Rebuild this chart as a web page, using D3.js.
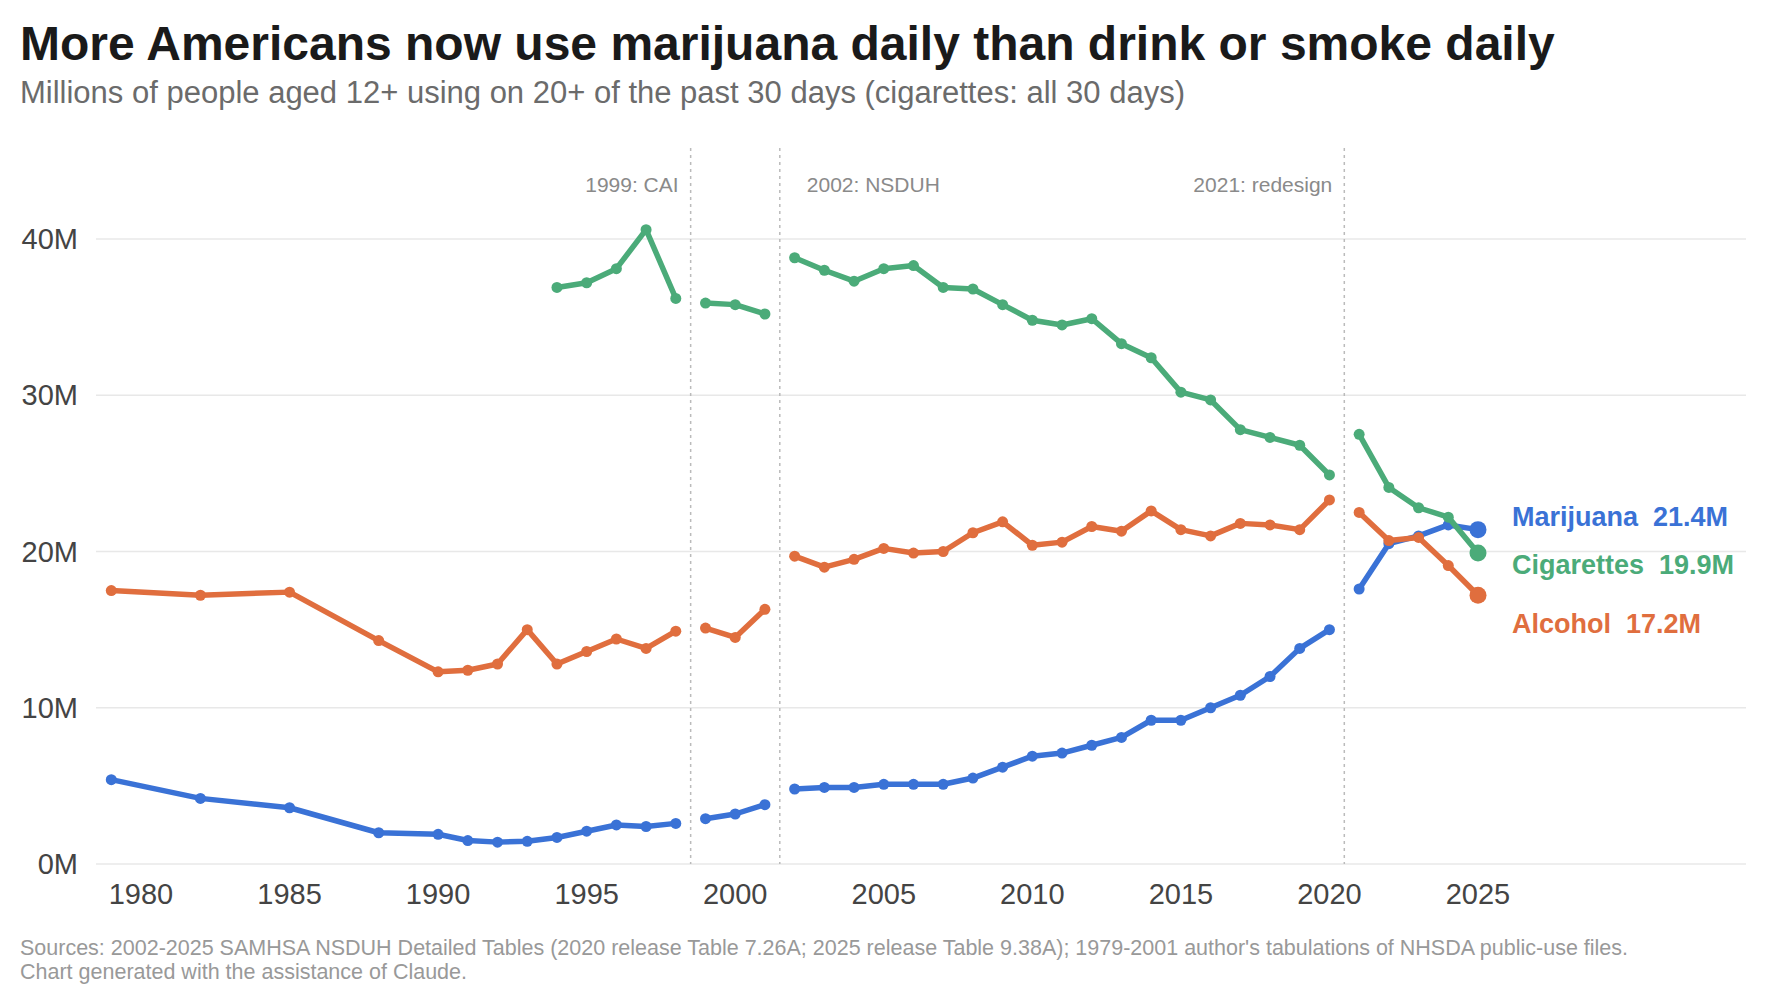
<!DOCTYPE html>
<html>
<head>
<meta charset="utf-8">
<script src="https://d3js.org/d3.v7.min.js"></script>
<style>
  body { margin: 0; background: #fff; font-family: "Liberation Sans", Arial, sans-serif; }
</style>
</head>
<body>
<div id="chart"></div>
<script>
// data (millions)
const years = [1979,1982,1985,1988,1990,1991,1992,1993,1994,1995,1996,1997,1998,
  1999,2000,2001,
  2002,2003,2004,2005,2006,2007,2008,2009,2010,2011,2012,2013,2014,2015,2016,2017,2018,2019,2020,
  2021,2022,2023,2024,2025];
const eras = [[1979,1998],[1999,2001],[2002,2020],[2021,2025]];
const marijuana = [5.4,4.2,3.6,2.0,1.9,1.5,1.4,1.45,1.7,2.1,2.5,2.4,2.6,
  2.9,3.2,3.8,
  4.8,4.9,4.9,5.1,5.1,5.1,5.5,6.2,6.9,7.1,7.6,8.1,9.2,9.2,10.0,10.8,12.0,13.8,15.0,
  17.6,20.5,21.0,21.7,21.4];
const alcohol = [17.5,17.2,17.4,14.3,12.3,12.4,12.8,15.0,12.8,13.6,14.4,13.8,14.9,
  15.1,14.5,16.3,
  19.7,19.0,19.5,20.2,19.9,20.0,21.2,21.9,20.4,20.6,21.6,21.3,22.6,21.4,21.0,21.8,21.7,21.4,23.3,
  22.5,20.7,20.9,19.1,17.2];
const cigarettes = [null,null,null,null,null,null,null,null,36.9,37.2,38.1,40.6,36.2,
  35.9,35.8,35.2,
  38.8,38.0,37.3,38.1,38.3,36.9,36.8,35.8,34.8,34.5,34.9,33.3,32.4,30.2,29.7,27.8,27.3,26.8,24.9,
  27.5,24.1,22.8,22.2,19.9];
const breaks = [1998.5, 2001.5, 2020.5];
const breakLabels = ["1999: CAI", "2002: NSDUH", "2021: redesign"];
const yTicks = [0,10,20,30,40];
const xTicks = [1980,1985,1990,1995,2000,2005,2010,2015,2020,2025];

const series = [
  {name: "Marijuana", values: marijuana, color: "#3a72d6"},
  {name: "Cigarettes", values: cigarettes, color: "#4bab79"},
  {name: "Alcohol", values: alcohol, color: "#e06e3e"}
];

const width = 1770, height = 990;
const svg = d3.select("#chart").append("svg").attr("width", width).attr("height", height);

const x = d3.scaleLinear().domain([1980, 2025]).range([141, 1478]);
const y = d3.scaleLinear().domain([0, 40]).range([864, 239]);
const plotLeft = 96, plotRight = 1746;

// title
svg.append("text").attr("x", 20).attr("y", 60).attr("font-size", 48).attr("font-weight", "bold")
  .attr("fill", "#1a1a1a").text("More Americans now use marijuana daily than drink or smoke daily");
svg.append("text").attr("x", 20).attr("y", 103).attr("font-size", 31).attr("fill", "#6b6b6b")
  .text("Millions of people aged 12+ using on 20+ of the past 30 days (cigarettes: all 30 days)");

// grid
svg.append("g").selectAll("line").data(yTicks).join("line")
  .attr("x1", plotLeft).attr("x2", plotRight)
  .attr("y1", d => y(d)).attr("y2", d => y(d))
  .attr("stroke", "#e8e8e8").attr("stroke-width", 1.5);
svg.append("g").selectAll("text").data(yTicks).join("text")
  .attr("x", 78).attr("y", d => y(d) + 10).attr("text-anchor", "end")
  .attr("font-size", 29).attr("fill", "#444").text(d => d + "M");
svg.append("g").selectAll("text").data(xTicks).join("text")
  .attr("x", d => x(d)).attr("y", 904).attr("text-anchor", "middle")
  .attr("font-size", 29).attr("fill", "#444").text(d => d);

// era breaks
svg.append("g").selectAll("line").data(breaks).join("line")
  .attr("x1", d => x(d)).attr("x2", d => x(d)).attr("y1", 148).attr("y2", 864)
  .attr("stroke", "#bbb").attr("stroke-width", 1.5).attr("stroke-dasharray", "3,4");
svg.append("g").selectAll("text").data(breaks).join("text")
  .attr("x", (d, i) => i === 1 ? x(d) + 27 : x(d) - 12)
  .attr("y", 192).attr("text-anchor", (d, i) => i === 1 ? "start" : "end")
  .attr("font-size", 21).attr("fill", "#8a8a8a").text((d, i) => breakLabels[i]);

// lines
const line = d3.line().x(d => x(d[0])).y(d => y(d[1]));
series.forEach(s => {
  const pts = years.map((yr, i) => [yr, s.values[i]]).filter(p => p[1] != null);
  const g = svg.append("g");
  eras.forEach(([a, b]) => {
    const seg = pts.filter(p => p[0] >= a && p[0] <= b);
    if (seg.length) g.append("path").attr("d", line(seg)).attr("fill", "none")
      .attr("stroke", s.color).attr("stroke-width", 5.5).attr("stroke-linejoin", "round");
  });
  g.selectAll("circle").data(pts).join("circle")
    .attr("cx", d => x(d[0])).attr("cy", d => y(d[1]))
    .attr("r", d => d[0] === 2025 ? 8.5 : 5.5).attr("fill", s.color);
});

// end labels
const labelY = {Marijuana: 22.3, Cigarettes: 19.2, Alcohol: 15.4};
series.forEach(s => {
  const last = s.values[s.values.length - 1];
  svg.append("text").attr("x", 1512).attr("y", y(labelY[s.name]) + 10)
    .attr("font-size", 27).attr("font-weight", "bold").attr("fill", s.color)
    .attr("xml:space", "preserve").style("white-space", "pre")
    .text(s.name + "  " + last.toFixed(1) + "M");
});

// footer
svg.append("text").attr("x", 20).attr("y", 955).attr("font-size", 21.5).attr("fill", "#999")
  .text("Sources: 2002-2025 SAMHSA NSDUH Detailed Tables (2020 release Table 7.26A; 2025 release Table 9.38A); 1979-2001 author's tabulations of NHSDA public-use files.");
svg.append("text").attr("x", 20).attr("y", 979).attr("font-size", 21.5).attr("fill", "#999")
  .text("Chart generated with the assistance of Claude.");
</script>
</body>
</html>
